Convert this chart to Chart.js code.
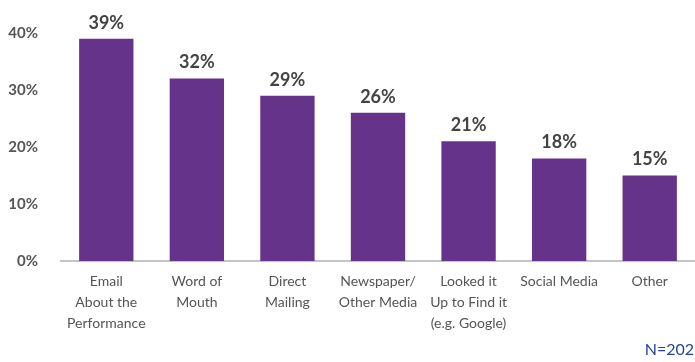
<!DOCTYPE html>
<html>
<head>
<meta charset="utf-8">
<script src="https://cdn.jsdelivr.net/npm/chart.js@4"></script>
<style>
  html, body { margin: 0; padding: 0; background: #fff; }
  #wrap { width: 695px; height: 362px; position: relative; }
</style>
</head>
<body>
<div id="wrap"><canvas id="chart"></canvas></div>
<script>
const categories = [
  ['Email', 'About the', 'Performance'],
  ['Word of', 'Mouth'],
  ['Direct', 'Mailing'],
  ['Newspaper/', 'Other Media'],
  ['Looked it', 'Up to Find it', '(e.g. Google)'],
  'Social Media',
  'Other'
];
const shares = [39, 32, 29, 26, 21, 18, 15];
const tickValues = [0, 10, 20, 30, 40];
const sampleNote = 'N=202';

const purple = '#66338b';
const font = 'Lato, "Open Sans", sans-serif';

// percent labels above each bar + sample size note
const barLabels = {
  id: 'barLabels',
  afterDatasetsDraw(chart) {
    const ctx = chart.ctx;
    const meta = chart.getDatasetMeta(0);
    ctx.save();
    ctx.font = 'bold 18px ' + font;
    ctx.fillStyle = '#444';
    ctx.textAlign = 'center';
    ctx.textBaseline = 'bottom';
    meta.data.forEach((bar, i) => {
      ctx.fillText(shares[i] + '%', bar.x, bar.y - 7);
    });
    ctx.font = '16px ' + font;
    ctx.fillStyle = '#24449a';
    ctx.textAlign = 'right';
    ctx.textBaseline = 'middle';
    ctx.fillText(sampleNote, chart.width - 1, 350);
    ctx.restore();
  }
};

new Chart(document.getElementById('chart'), {
  type: 'bar',
  data: {
    labels: categories,
    datasets: [{
      data: shares,
      backgroundColor: purple,
      barPercentage: 0.6,
      categoryPercentage: 1
    }]
  },
  options: {
    responsive: true,
    maintainAspectRatio: false,
    animation: false,
    layout: { padding: { top: 33, right: 0, bottom: 18, left: 0 } },
    plugins: { legend: { display: false }, tooltip: { enabled: false } },
    scales: {
      x: {
        grid: { display: false, drawTicks: false },
        border: { display: true, color: '#c4c4c4', width: 2 },
        ticks: {
          padding: 10,
          color: '#555',
          maxRotation: 0,
          autoSkip: false,
          font: { family: font, size: 14, lineHeight: 1.5 }
        }
      },
      y: {
        min: 0,
        max: 40,
        afterBuildTicks: axis => { axis.ticks = tickValues.map(v => ({ value: v })); },
        afterFit: axis => { axis.width = 61; },
        grid: { display: false, drawTicks: false },
        border: { display: false },
        ticks: {
          padding: 23,
          color: '#555',
          font: { family: font, size: 15, weight: 'bold' },
          callback: v => v + '%'
        }
      }
    }
  },
  plugins: [barLabels]
});
</script>
</body>
</html>
